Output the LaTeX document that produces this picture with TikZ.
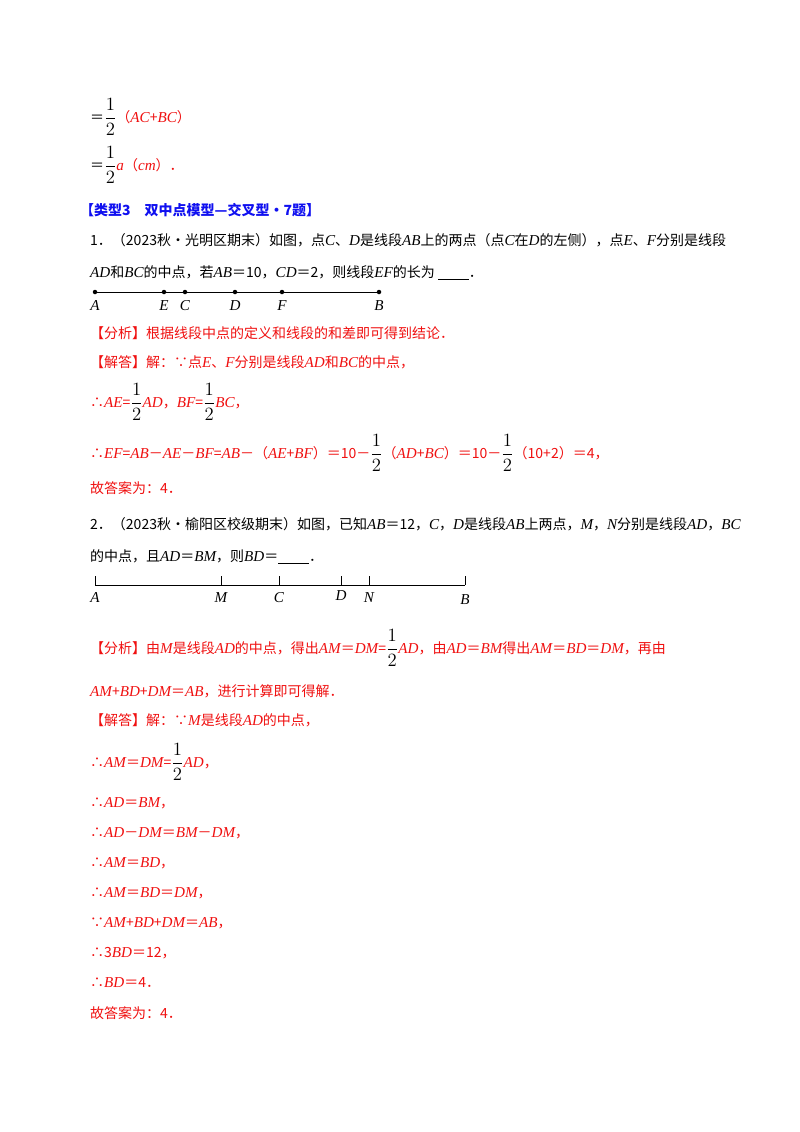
\documentclass[tikz,border=0pt]{standalone}
\usepackage{fontspec}
\setmainfont{Noto Sans CJK SC}
\newfontfamily\lat[Scale=1.08]{Liberation Serif}
\newcommand\mv[1]{{\lat\itshape #1}}
\newcommand\hf{{\color{black}\scalebox{1.3}{$\displaystyle\frac{1}{2}$}}}
\definecolor{rd}{HTML}{F01010}
\definecolor{bl}{HTML}{1010F0}
\begin{document}
\begin{tikzpicture}[x=1pt,y=-1pt,
  tx/.style={anchor=west,inner sep=0pt,font=\fontsize{14}{14}\selectfont},
  rt/.style={tx,text=rd},
  lb/.style={inner sep=0pt,font=\fontsize{14}{14}\lat\itshape},
  dot/.style={circle,fill=black,inner sep=0pt,minimum size=4.5pt}]
\useasboundingbox[fill=white] (0,0) rectangle (800,1132);
\node[tx] (l1) at (90,117) {＝\hf\textcolor{rd}{（\mv{AC}+\mv{BC}）}};
\node[tx] (l2) at (90,165) {＝\hf\textcolor{rd}{\mv{a}（\mv{cm}）．}};
\node[tx,text=bl,font=\fontsize{14}{14}\selectfont\bfseries] (h) at (80,210) {【类型3　双中点模型—交叉型·7题】};
\node[tx] (q1a) at (90,240) {1．（2023秋•光明区期末）如图，点\mv{C}、\mv{D}是线段\mv{AB}上的两点（点\mv{C}在\mv{D}的左侧），点\mv{E}、\mv{F}分别是线段};
\node[tx] (q1b) at (90,273) {\mv{AD}和\mv{BC}的中点，若\mv{AB}＝10，\mv{CD}＝2，则线段\mv{EF}的长为 \underline{\hspace{2.2em}}．};
% number line 1
\foreach \n/\x in {A/95,E/164,C/185,D/235,F/282,B/379}{
  \node[dot] (p\n) at (\x,292) {};
  \node[lb] (lp\n) at (\x,306) {\n};}
\draw[line width=0.8pt] (pA) -- (pB);
\node[rt] (a1) at (90,333) {【分析】根据线段中点的定义和线段的和差即可得到结论．};
\node[rt] (s1) at (90,362) {【解答】解：∵点\mv{E}、\mv{F}分别是线段\mv{AD}和\mv{BC}的中点，};
\node[rt] (s2) at (90,402) {∴\mv{AE}=\hf\mv{AD}，\mv{BF}=\hf\mv{BC}，};
\node[rt] (s3) at (90,453) {∴\mv{EF}=\mv{AB}－\mv{AE}－\mv{BF}=\mv{AB}－（\mv{AE}+\mv{BF}）＝10－\hf（\mv{AD}+\mv{BC}）＝10－\hf（10+2）＝4，};
\node[rt] (s4) at (90,488) {故答案为：4．};
\node[tx] (q2a) at (90,524) {2．（2023秋•榆阳区校级期末）如图，已知\mv{AB}＝12，\mv{C}，\mv{D}是线段\mv{AB}上两点，\mv{M}，\mv{N}分别是线段\mv{AD}，\mv{BC}};
\node[tx] (q2b) at (90,557) {的中点，且\mv{AD}＝\mv{BM}，则\mv{BD}＝\underline{\hspace{2.2em}}．};
% number line 2
\foreach \n/\x/\ly in {A/95/598,M/221/598,C/279/598,D/341/596,N/369/598,B/465/600}{
  \coordinate (q\n) at (\x,585);
  \coordinate (u\n) at (\x,576);
  \draw[line width=0.7pt] (q\n) -- (u\n);
  \node[lb] (lq\n) at (\x,\ly) {\n};}
\draw[line width=0.7pt] (qA) -- (qB);
\node[rt] (a2) at (90,648) {【分析】由\mv{M}是线段\mv{AD}的中点，得出\mv{AM}＝\mv{DM}=\hf\mv{AD}，由\mv{AD}＝\mv{BM}得出\mv{AM}＝\mv{BD}＝\mv{DM}，再由};
\node[rt] (a3) at (90,691) {\mv{AM}+\mv{BD}+\mv{DM}＝\mv{AB}，进行计算即可得解．};
\node[rt] (r1) at (90,720) {【解答】解：∵\mv{M}是线段\mv{AD}的中点，};
\node[rt] (r2) at (90,762) {∴\mv{AM}＝\mv{DM}=\hf\mv{AD}，};
\node[rt] (r3) at (90,803) {∴\mv{AD}＝\mv{BM}，};
\node[rt] (r4) at (90,833) {∴\mv{AD}－\mv{DM}＝\mv{BM}－\mv{DM}，};
\node[rt] (r5) at (90,863) {∴\mv{AM}＝\mv{BD}，};
\node[rt] (r6) at (90,893) {∴\mv{AM}＝\mv{BD}＝\mv{DM}，};
\node[rt] (r7) at (90,923) {∵\mv{AM}+\mv{BD}+\mv{DM}＝\mv{AB}，};
\node[rt] (r8) at (90,953) {∴3\mv{BD}＝12，};
\node[rt] (r9) at (90,983) {∴\mv{BD}＝4．};
\node[rt] (r10) at (90,1013) {故答案为：4．};
\end{tikzpicture}
\end{document}
